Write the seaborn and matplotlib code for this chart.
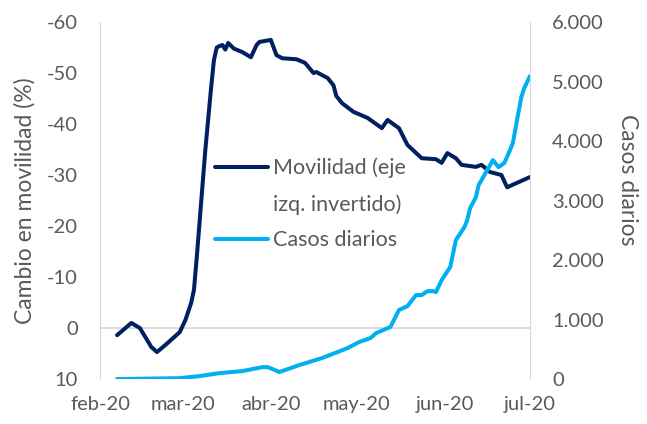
import matplotlib
matplotlib.use("Agg")
import matplotlib.pyplot as plt
from matplotlib.lines import Line2D
from matplotlib.ticker import FuncFormatter
import pandas as pd
import seaborn as sns

mov_dates = ["2020-02-07", "2020-02-12", "2020-02-15", "2020-02-19", "2020-02-21", "2020-02-24",
             "2020-02-29", "2020-03-02", "2020-03-04", "2020-03-05", "2020-03-06", "2020-03-07",
             "2020-03-08", "2020-03-09", "2020-03-10", "2020-03-11", "2020-03-12", "2020-03-13",
             "2020-03-14", "2020-03-15", "2020-03-16", "2020-03-17", "2020-03-19", "2020-03-22",
             "2020-03-25", "2020-03-27", "2020-03-28", "2020-04-01", "2020-04-03", "2020-04-05",
             "2020-04-10", "2020-04-13", "2020-04-16", "2020-04-17", "2020-04-21", "2020-04-23",
             "2020-04-24", "2020-04-26", "2020-04-30", "2020-05-05", "2020-05-10", "2020-05-12",
             "2020-05-16", "2020-05-19", "2020-05-24", "2020-05-29", "2020-05-31", "2020-06-02",
             "2020-06-05", "2020-06-07", "2020-06-12", "2020-06-14", "2020-06-17", "2020-06-21",
             "2020-06-23", "2020-06-27", "2020-07-01"]
mov_values = [1.4, -1.0, 0.0, 3.7, 4.7, 3.3,
              0.8, -1.6, -4.9, -7.5, -14, -21,
              -28, -35, -41, -47, -52.5, -55,
              -55.3, -55.5, -54.6, -55.9, -54.8, -54.1,
              -53.1, -55.5, -56.1, -56.5, -53.5, -52.9,
              -52.7, -52.0, -50.0, -50.2, -49.0, -47.6,
              -45.5, -44.1, -42.4, -41.2, -39.2, -40.8,
              -39.2, -35.9, -33.3, -33.1, -32.4, -34.3,
              -33.3, -32.0, -31.6, -32.0, -30.6, -30.0,
              -27.6, -28.6, -29.6]

cases_dates = ["2020-02-07", "2020-02-29", "2020-03-07", "2020-03-14", "2020-03-22", "2020-03-29",
               "2020-03-31", "2020-04-04", "2020-04-11", "2020-04-19", "2020-04-28", "2020-05-02",
               "2020-05-06", "2020-05-08", "2020-05-13", "2020-05-16", "2020-05-19", "2020-05-22",
               "2020-05-24", "2020-05-26", "2020-05-28", "2020-05-29", "2020-05-31", "2020-06-03",
               "2020-06-05", "2020-06-08", "2020-06-09", "2020-06-10", "2020-06-12", "2020-06-13",
               "2020-06-15", "2020-06-18", "2020-06-20", "2020-06-22", "2020-06-24", "2020-06-25",
               "2020-06-27", "2020-06-28", "2020-06-29", "2020-07-01"]
cases_values = [0, 15, 50, 100, 134, 200,
                200, 118, 235, 353, 521, 622,
                689, 773, 875, 1160, 1226, 1411,
                1411, 1478, 1478, 1462, 1663, 1882,
                2335, 2554, 2671, 2873, 3050, 3260,
                3427, 3679, 3562, 3629, 3847, 3965,
                4486, 4738, 4889, 5090]

month_ticks = ["2020-02-01", "2020-03-01", "2020-04-01", "2020-05-01", "2020-06-01", "2020-07-01"]
month_labels = ["feb-20", "mar-20", "abr-20", "may-20", "jun-20", "jul-20"]
left_ticks = [-60, -50, -40, -30, -20, -10, 0, 10]
right_ticks = [0, 1000, 2000, 3000, 4000, 5000, 6000]

sns.set_style("white")
plt.rcParams['font.family'] = ['Lato', 'DejaVu Sans']

gray = '#595959'
axis_gray = '#d9d9d9'
navy = '#002060'
light = '#00b0f0'

df_mov = pd.DataFrame({'date': pd.to_datetime(mov_dates), 'value': mov_values})
df_cases = pd.DataFrame({'date': pd.to_datetime(cases_dates), 'value': cases_values})

fig, ax = plt.subplots(figsize=(6.47, 4.24), dpi=100)
fig.subplots_adjust(left=0.1546, right=0.819, top=0.948, bottom=0.106)
ax2 = ax.twinx()

sns.lineplot(data=df_mov, x='date', y='value', ax=ax, color=navy, linewidth=2.9)
sns.lineplot(data=df_cases, x='date', y='value', ax=ax2, color=light, linewidth=2.9)

ax.axhline(0, color=axis_gray, lw=1.3, zorder=0)

ax.set_ylim(10, -60)
ax2.set_ylim(0, 6000)
ax.set_xlim(pd.Timestamp(month_ticks[0]), pd.Timestamp(month_ticks[-1]))

ax.set_yticks(left_ticks)
ax.yaxis.set_major_formatter(FuncFormatter(lambda v, p: f"{int(v)}"))
ax2.set_yticks(right_ticks)
ax2.yaxis.set_major_formatter(FuncFormatter(lambda v, p: f"{int(v):,}".replace(",", ".")))
ax.set_xticks(pd.to_datetime(month_ticks))
ax.set_xticklabels(month_labels)

for a in (ax, ax2):
    a.tick_params(length=0, labelsize=14.5, colors=gray)
    for s in a.spines.values():
        s.set_visible(False)
ax.tick_params(axis='y', pad=16)
ax.tick_params(axis='x', pad=12)
ax2.tick_params(axis='y', pad=16)
ax.spines['left'].set_visible(True)
ax.spines['left'].set_color(axis_gray)
ax2.spines['right'].set_visible(True)
ax2.spines['right'].set_color(axis_gray)

ax.set_xlabel("")
ax.set_ylabel("Cambio en movilidad (%)", fontsize=16.5, color=gray, ha='center', va='center')
ax.yaxis.set_label_coords(-0.176, 0.5)
ax2.set_ylabel("Casos diarios", fontsize=16.5, color=gray, rotation=270, ha='center', va='center')
ax2.yaxis.set_label_coords(1.228, 0.557)

handles = [Line2D([], [], color=navy, lw=2.9),
           Line2D([], [], color='none'),
           Line2D([], [], color=light, lw=2.9)]
labels = ["Movilidad (eje", "izq. invertido)", "Casos diarios"]
ax2.legend(handles, labels, loc='upper left', bbox_to_anchor=(0.267, 0.62), frameon=False,
           fontsize=15.5, handlelength=2.47, handletextpad=0.23, labelspacing=0.73,
           borderpad=0, borderaxespad=0, labelcolor=gray)

fig.savefig('out.png', dpi=100)
